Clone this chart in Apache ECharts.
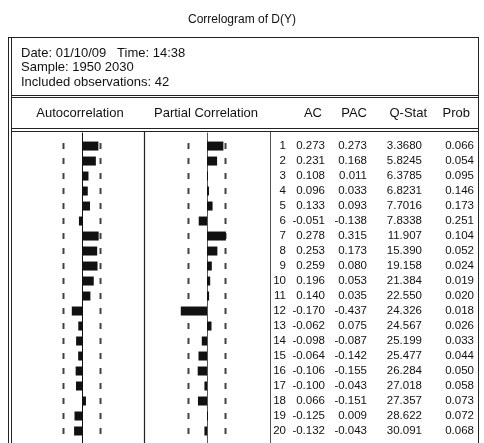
<!DOCTYPE html>
<html>
<head>
<meta charset="utf-8">
<script src="https://cdn.jsdelivr.net/npm/echarts@6/dist/echarts.min.js"></script>
<style>
  html, body { margin: 0; padding: 0; background: #fff; }
  #chart { width: 484px; height: 443px; }
</style>
</head>
<body>
<div id="chart"></div>
<script>
// Correlogram of D(Y): lags 1..20
const lags = [1, 2, 3, 4, 5, 6, 7, 8, 9, 10, 11, 12, 13, 14, 15, 16, 17, 18, 19, 20];
const acValues = [0.273, 0.231, 0.108, 0.096, 0.133, -0.051, 0.278, 0.253, 0.259, 0.196,
                  0.140, -0.170, -0.062, -0.098, -0.064, -0.106, -0.100, 0.066, -0.125, -0.132];
const pacValues = [0.273, 0.168, 0.011, 0.033, 0.093, -0.138, 0.315, 0.173, 0.080, 0.053,
                   0.035, -0.437, 0.075, -0.087, -0.142, -0.155, -0.043, -0.151, 0.009, -0.043];
const qStatValues = [3.3680, 5.8245, 6.3785, 6.8231, 7.7016, 7.8338, 11.907, 15.390, 19.158, 21.384,
                     22.550, 24.326, 24.567, 25.199, 25.477, 26.284, 27.018, 27.357, 28.622, 30.091];
const probValues = [0.066, 0.054, 0.095, 0.146, 0.173, 0.251, 0.104, 0.052, 0.024, 0.019,
                    0.020, 0.018, 0.026, 0.033, 0.044, 0.050, 0.058, 0.073, 0.072, 0.068];
const nObs = 42;
const infoLines = ['Date: 01/10/09   Time: 14:38', 'Sample: 1950 2030', 'Included observations: 42'];
const panelTitles = ['Autocorrelation', 'Partial Correlation'];
const tableHeaders = ['AC', 'PAC', 'Q-Stat', 'Prob'];

// approximate 95% band, +/- 2/sqrt(T)
const bound = 2 / Math.sqrt(nObs);

const FONT = '"Liberation Sans", Arial, sans-serif';
const INK = '#111';

const chart = echarts.init(document.getElementById('chart'), null, { renderer: 'canvas' });

const yAxisBase = {
  type: 'value', inverse: true, min: 0.13, max: 20.8,
  axisLabel: { show: false }, axisTick: { show: false }, splitLine: { show: false }
};
const xAxisBase = {
  type: 'value', min: -1, max: 1,
  axisLabel: { show: false }, axisTick: { show: false }, splitLine: { show: false },
  axisLine: { show: false }
};

function barItem(params, api) {
  const v = api.value(0), lag = api.value(1);
  const p0 = api.coord([0, lag]);
  const p1 = api.coord([v, lag]);
  const h = 9;
  return {
    type: 'rect',
    shape: { x: Math.min(p0[0], p1[0]), y: p0[1] - h / 2, width: Math.max(1, Math.abs(p1[0] - p0[0])), height: h },
    style: { fill: INK }
  };
}

// right edges of table columns, relative to the table grid's left side
const colRight = [14, 53, 95, 150, 202];
// right edges of the column headings, same reference
const headRight = [50, 95, 155, 198];

function tableItem(params, api) {
  const i = api.value(2);
  const y = api.coord([0, api.value(1)])[1];
  const x0 = params.coordSys.x;
  const cells = [
    String(lags[i]),
    acValues[i].toFixed(3),
    pacValues[i].toFixed(3),
    qStatValues[i].toPrecision(5),
    probValues[i].toFixed(3)
  ];
  return {
    type: 'group',
    children: cells.map((t, k) => ({
      type: 'text',
      style: {
        text: t, x: x0 + colRight[k], y: y,
        align: 'right', verticalAlign: 'middle',
        font: '11.5px ' + FONT, fill: INK
      }
    }))
  };
}

function boundSeries(gridIdx) {
  const pts = [];
  lags.forEach(l => { pts.push([-bound, l]); pts.push([bound, l]); });
  return {
    type: 'scatter', xAxisIndex: gridIdx, yAxisIndex: gridIdx,
    symbol: 'rect', symbolSize: [2, 6], silent: true,
    itemStyle: { color: INK }, data: pts, z: 3
  };
}

function hLine(x1, x2, y, w) {
  return { type: 'line', shape: { x1, y1: y, x2, y2: y }, style: { stroke: '#222', lineWidth: w || 1 }, silent: true };
}
function vLine(x, y1, y2, w, c) {
  return { type: 'line', shape: { x1: x, y1, x2: x, y2 }, style: { stroke: c || '#222', lineWidth: w || 1 }, silent: true };
}
function label(text, x, y, align, size) {
  return {
    type: 'text', silent: true,
    style: { text, x, y, align: align || 'left', verticalAlign: 'middle', font: (size || 13) + 'px ' + FONT, fill: INK }
  };
}

const headerY = 113;
const graphics = [
  // frame
  vLine(8.5, 37, 443), vLine(11.5, 37, 443),
  hLine(8, 479, 37.5), vLine(478.5, 37, 443),
  hLine(11, 479, 95.5, 1), hLine(11, 479, 97.5, 1),
  hLine(11, 479, 128.5, 1), hLine(11, 479, 131.5, 1),
  // panel separators
  vLine(144.5, 132, 443, 1.2, '#222'), vLine(270.5, 132, 443, 1, '#555'),
  // info block
  ...infoLines.map((t, i) => label(t, 21, 53 + i * 14.5, 'left', 13)),
  // column headings
  label(panelTitles[0], 80, headerY, 'center', 13),
  label(panelTitles[1], 206, headerY, 'center', 13),
  ...tableHeaders.map((t, k) => label(t, 272 + headRight[k], headerY, 'right', 13))
];

chart.setOption({
  animation: false,
  backgroundColor: '#fff',
  title: {
    text: 'Correlogram of D(Y)', left: 'center', top: 9,
    textStyle: { fontFamily: FONT, fontSize: 12, fontWeight: 'normal', color: INK }
  },
  grid: [
    { left: 22, width: 120, top: 133, height: 310 },
    { left: 147, width: 120, top: 133, height: 310 },
    { left: 272, width: 207, top: 133, height: 310 }
  ],
  xAxis: [
    Object.assign({ gridIndex: 0 }, xAxisBase),
    Object.assign({ gridIndex: 1 }, xAxisBase),
    Object.assign({ gridIndex: 2 }, xAxisBase, { min: 0, max: 1 })
  ],
  yAxis: [
    Object.assign({ gridIndex: 0 }, yAxisBase, { axisLine: { show: true, onZero: true, lineStyle: { color: '#111', width: 1 } } }),
    Object.assign({ gridIndex: 1 }, yAxisBase, { axisLine: { show: true, onZero: true, lineStyle: { color: '#555', width: 1 } } }),
    Object.assign({ gridIndex: 2 }, yAxisBase, { axisLine: { show: false } })
  ],
  series: [
    {
      type: 'custom', xAxisIndex: 0, yAxisIndex: 0, renderItem: barItem,
      encode: { x: 0, y: 1 }, data: acValues.map((v, i) => [v, lags[i]]), z: 4
    },
    {
      type: 'custom', xAxisIndex: 1, yAxisIndex: 1, renderItem: barItem,
      encode: { x: 0, y: 1 }, data: pacValues.map((v, i) => [v, lags[i]]), z: 4
    },
    boundSeries(0),
    boundSeries(1),
    {
      type: 'custom', xAxisIndex: 2, yAxisIndex: 2, renderItem: tableItem,
      encode: { x: 0, y: 1 }, data: lags.map((l, i) => [0, l, i])
    }
  ],
  graphic: graphics
});
</script>
</body>
</html>
